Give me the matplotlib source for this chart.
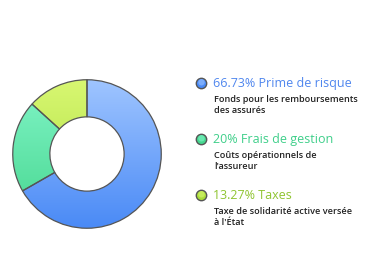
import matplotlib.pyplot as plt
import numpy as np
from matplotlib.colors import LinearSegmentedColormap
from matplotlib.patches import Circle

# --- Data ---
shares = [66.73, 20, 13.27]
labels = ["Prime de risque", "Frais de gestion", "Taxes"]
share_text = ["66.73%", "20%", "13.27%"]
descriptions = [
    "Fonds pour les remboursements\ndes assurés",
    "Coûts opérationnels de\nl'assureur",
    "Taxe de solidarité active versée\nà l'État",
]

# gradient (top, bottom) per slice, and legend title colour
grad = [("#9fc5ff", "#4a8af6"), ("#82f5c8", "#45d68e"), ("#d8f772", "#a9dc3a")]
title_colors = ["#4f86ee", "#3fcf8a", "#8fc431"]

W, H = 375, 275
fig = plt.figure(figsize=(W / 100, H / 100), dpi=100)
fig.patch.set_facecolor("white")

# --- Donut ---
cx, cy, r = 87, 154, 75
ax = fig.add_axes([(cx - r) / W, (H - cy - r) / H, 2 * r / W, 2 * r / H])
wedges, _ = ax.pie(
    shares,
    startangle=90,
    counterclock=False,
    radius=1,
    wedgeprops=dict(width=0.5, edgecolor="#555555", linewidth=0.9, facecolor="none"),
)
yy = np.linspace(1, 0, 256).reshape(-1, 1)
for w, (top, bot) in zip(wedges, grad):
    cmap = LinearSegmentedColormap.from_list("g", [bot, top])
    im = ax.imshow(yy, cmap=cmap, extent=(-1, 1, -1, 1), aspect="auto",
                   origin="upper", zorder=0.5)
    im.set_clip_path(w)
    w.set_zorder(1)
ax.set_xlim(-1.01, 1.01)
ax.set_ylim(-1.01, 1.01)
ax.set_aspect("equal")
ax.axis("off")

# --- Legend (text panel in pixel coords) ---
lx = fig.add_axes([0, 0, 1, 1])
lx.set_xlim(0, W)
lx.set_ylim(H, 0)
lx.axis("off")

title_y = [83.5, 139.5, 195.5]
for i in range(3):
    y = title_y[i]
    top, bot = grad[i]
    lx.add_patch(Circle((201.5, y), 5.2, facecolor=bot, edgecolor="#555555",
                        linewidth=1.0))
    lx.add_patch(Circle((201.5, y - 1.2), 3.2, facecolor=top, edgecolor="none",
                        alpha=0.6))
    lx.text(213, y, f"{share_text[i]} {labels[i]}", color=title_colors[i],
            fontsize=9.0, family="Open Sans", fontweight="medium", va="center", ha="left")
    lx.text(214, y + 21.5, descriptions[i], color="#222222", fontsize=6.6,
            family="Open Sans", fontweight="semibold", va="center", ha="left",
            linespacing=1.35)

fig.savefig("out.png", dpi=100)
